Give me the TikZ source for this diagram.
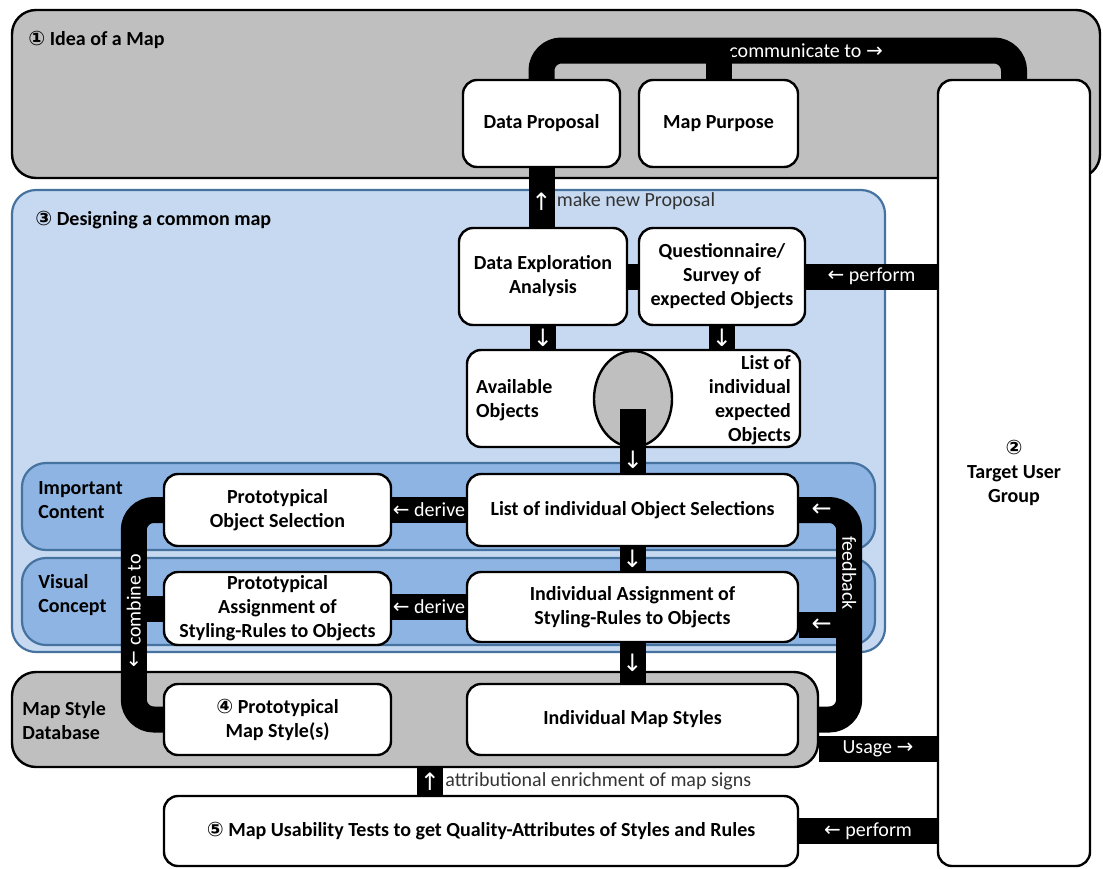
\documentclass[tikz,border=0pt]{standalone}
\usepackage{fontspec}
\setmainfont{Carlito}
\newfontfamily\symfont{DejaVu Sans}
\usetikzlibrary{fit,shapes.geometric}
\definecolor{ideagray}{RGB}{191,191,191}
\definecolor{designblue}{RGB}{198,217,241}
\definecolor{layerblue}{RGB}{142,180,227}
\definecolor{frameblue}{RGB}{70,114,160}
\newcommand\boxfont{\fontsize{10}{12}\selectfont}
\tikzset{
  box/.style={draw, line width=1.2pt, fill=white, rounded corners=7pt, inner sep=0pt, align=center, font=\boxfont\bfseries},
  area/.style={draw, line width=1.2pt, fill=ideagray, rounded corners=12pt, inner sep=0pt},
  bluearea/.style={draw=frameblue, line width=1.1pt, rounded corners=12pt, inner sep=0pt},
  title/.style={anchor=west, align=left, font=\boxfont\bfseries, inner sep=0pt},
  band/.style={line width=13pt, draw=black},
  bandtext/.style={text=white, font=\boxfont, inner sep=1pt},
  arr/.style={text=white, font=\fontsize{12}{12}\symfont, inner sep=0pt},
  sidetext/.style={anchor=west, text=black!80, font=\boxfont, inner sep=1pt}
}

\begin{document}
\begin{tikzpicture}[x=0.5pt,y=-0.5pt]
	\useasboundingbox (0,0) rectangle (1103,868);
	% areas
	\node[area, fit={(12,10)(1100,178)}] (idea) {};
	\node[title] at (28,40) {{\symfont ①} Idea of a Map};
	\node[bluearea, fill=designblue, fit={(12,190)(885,652)}] (design) {};
	\node[title] at (35,220) {{\symfont ③} Designing a common map};
	\node[bluearea, fill=layerblue, fit={(22,463)(875,550)}] (content) {};
	\node[title] at (38,500.5) {Important\\Content};
	\node[bluearea, fill=layerblue, fit={(22,558)(875,645)}] (concept) {};
	\node[title] at (38,595) {Visual\\Concept};
	\node[area, fit={(12,672)(818,767)}] (styledb) {};
	\node[title] at (22,721) {Map Style\\Database};

	% boxes
	\node[box, minimum width=76pt, minimum height=393pt] (users) at (1014,473) {{\symfont ②}\\Target User\\Group};
	\node[box, minimum width=78.5pt, minimum height=43.5pt] (proposal) at (541.5,123.5) {Data Proposal};
	\node[box, minimum width=79.5pt, minimum height=43.5pt] (purpose) at (718.5,123.5) {Map Purpose};
	\node[box, minimum width=84pt, minimum height=48.5pt] (explore) at (543,276.5) {Data Exploration\\Analysis};
	\node[box, minimum width=83pt, minimum height=48.5pt] (survey) at (722,276.5) {Questionnaire/\\Survey of\\expected Objects};
	\node[box, minimum width=166.5pt, minimum height=48.5pt] (objects) at (633.5,398.5) {};
	\node[title] at ([xshift=5pt,yshift=-1pt]objects.west) {Available\\Objects};
	\node[title, anchor=east, align=right] at ([xshift=-5pt,yshift=-1pt]objects.east) {List of\\individual\\expected\\Objects};
	\node[ellipse, draw, line width=1.2pt, fill=ideagray, minimum width=39pt, minimum height=48pt, inner sep=0pt] (overlap) at (633,399) {};
	\node[box, minimum width=113.5pt, minimum height=36pt] (protoselect) at (277.5,510) {Prototypical\\Object Selection};
	\node[box, minimum width=165.5pt, minimum height=36pt] (selections) at (632.5,510) {List of individual Object Selections};
	\node[box, minimum width=113.5pt, minimum height=36.5pt] (protoassign) at (277.5,608.5) {Prototypical\\Assignment of\\Styling-Rules to Objects};
	\node[box, minimum width=165.5pt, minimum height=35pt] (assign) at (632.5,607) {Individual Assignment of\\Styling-Rules to Objects};
	\node[box, minimum width=113.5pt, minimum height=35.5pt] (protostyle) at (277.5,719.5) {{\symfont ④} Prototypical\\Map Style(s)};
	\node[box, minimum width=165.5pt, minimum height=35.5pt] (styles) at (632.5,719.5) {Individual Map Styles};
	\node[box, minimum width=317pt, minimum height=35pt] (usability) at (481,831) {{\symfont ⑤} Map Usability Tests to get Quality-Attributes of Styles and Rules};

	% connectors
	\coordinate (talk) at (1014,50.5);
	\draw[band, rounded corners=10pt] (proposal.north) |- node[bandtext, pos=0.78] {communicate to {\symfont →}} (talk) -- (users.north);
	\draw[band] (purpose.north) -- (purpose.north |- talk);
	\draw[band] (proposal.south) -- node[arr, pos=0.57] (newarrow) {↑} (proposal.south |- explore.north);
	\node[sidetext] at ([xshift=6.5pt]newarrow.center) {make new Proposal};
	\draw[band] (explore.east) -- (survey.west);
	\draw[band] (survey.east) -- node[bandtext] {{\symfont ←} perform} (survey.east -| users.west);
	\draw[band] (explore.south) -- node[arr] {↓} (explore.south |- objects.north);
	\draw[band] (survey.south) -- node[arr] {↓} (survey.south |- objects.north);
	\draw[band] ([yshift=-5pt]overlap.center) -- node[arr, pos=0.8] {↓} (overlap.center |- selections.north);
	\draw[band] (selections.south) -- node[arr] {↓} (assign.north);
	\draw[band] (assign.south) -- node[arr] {↓} (styles.north);
	\draw[band] (selections.west) -- node[bandtext] {{\symfont ←} derive} (protoselect.east);
	\draw[band] (assign.west) -- node[bandtext] {{\symfont ←} derive} (assign.west -| protoassign.east);
	\draw[band] (protoassign.west) -- ++(-29,0);
	\draw[band, rounded corners=10pt] (protoselect.west) -- ++(-29,0) |- node[bandtext, rotate=90, pos=0.24] {{\symfont ←} combine to} (protostyle.west);
	\draw[band] ([yshift=-9pt]assign.east) -- node[arr, pos=0.45] {←} ++(50,0);
	\draw[band, rounded corners=10pt] (selections.east) -- node[arr, pos=0.45] {←} ++(50,0) |- node[bandtext, rotate=-90, pos=0.15] {feedback} (styledb.east);
	\coordinate (usage) at ([yshift=-14.5pt]styledb.east);
	\draw[band] (usage) -- node[bandtext] {Usage {\symfont →}} (usage -| users.west);
	\coordinate (enrich) at ([xshift=-25.5pt]usability.north);
	\draw[band] (enrich) -- node[arr] (enricharrow) {↑} (enrich |- styledb.south);
	\node[sidetext] at ([xshift=6.5pt]enricharrow.center) {attributional enrichment of map signs};
	\draw[band] (usability.east) -- node[bandtext] {{\symfont ←} perform} (usability.east -| users.west);
\end{tikzpicture}
\end{document}
